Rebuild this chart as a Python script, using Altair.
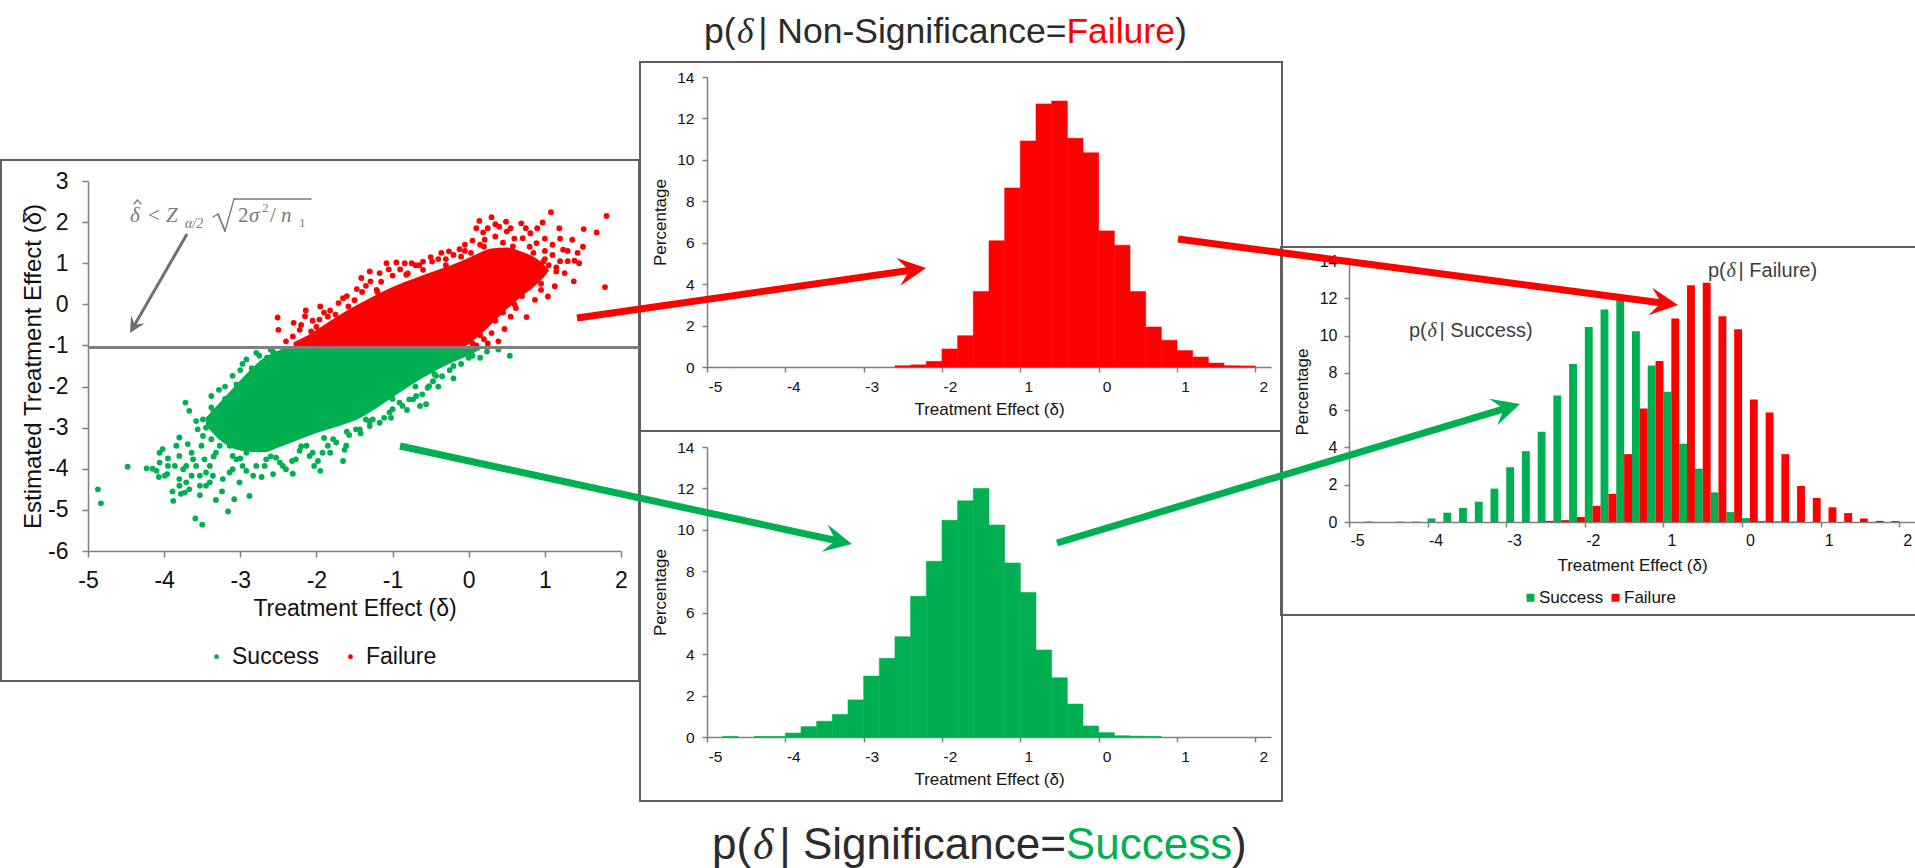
import math
import altair as alt
import pandas as pd

W, H = 1915, 868
GREEN = "#00b050"
RED = "#ff0000"
GRAY = "#7f7f7f"
FRAME = "#5f5f5f"
INK = "#111111"
TITLE_INK = "#2b2b2b"
SANS = "Liberation Sans"
SERIF = "Liberation Serif"

# ---------------------------------------------------------------- data
THRESH = -1.05  # significance cut on the estimated effect

# dense part of each cloud: lower / upper edge against the true effect
green_core_x = [-3.45, -3.30, -3.10, -2.90, -2.70, -2.50, -2.30, -2.00, -1.70, -1.40, -1.15, -0.90, -0.65, -0.40, -0.15, 0.05, 0.15]
green_core_lo = [-2.95, -3.25, -3.50, -3.58, -3.60, -3.48, -3.34, -3.13, -2.96, -2.74, -2.45, -2.14, -1.84, -1.58, -1.36, -1.20, -1.10]
green_core_hi = [-2.75, -2.45, -2.05, -1.65, -1.32, -1.12, -1.06, -1.06, -1.06, -1.06, -1.06, -1.06, -1.06, -1.06, -1.06, -1.06, -1.06]

red_core_x = [-2.30, -2.10, -1.90, -1.60, -1.30, -1.00, -0.70, -0.40, -0.10, 0.10, 0.30, 0.50, 0.70, 0.90, 1.05]
red_core_lo = [-1.04, -1.04, -1.04, -1.04, -1.04, -1.04, -1.04, -1.04, -1.04, -0.82, -0.48, -0.12, 0.20, 0.50, 0.80]
red_core_hi = [-0.92, -0.74, -0.50, -0.15, 0.15, 0.42, 0.64, 0.84, 1.05, 1.22, 1.36, 1.38, 1.28, 1.10, 0.85]

# scattered simulations around the clouds (true effect, estimated effect)
green_pts = [
    (-4.87, -4.50), (-4.83, -4.84), (-4.48, -3.95), (-4.23, -3.99), (-4.07, -4.20), (-4.06, -3.61),
    (-4.02, -3.52), (-3.96, -4.13), (-3.89, -4.55), (-3.88, -4.78), (-3.80, -3.24), (-3.72, -2.39),
    (-3.67, -2.59), (-3.59, -5.21), (-3.50, -5.36), (-3.78, -4.61), (-3.53, -4.41), (-3.32, -4.76),
    (-3.16, -5.04), (-3.08, -4.74), (-3.24, -4.55), (-2.88, -4.66), (-2.83, -4.17), (-2.72, -4.20),
    (-2.57, -4.13), (-2.31, -4.12), (-2.44, -3.93), (-2.32, -3.81), (-1.95, -4.05), (-1.98, -3.81),
    (-1.92, -3.61), (-1.82, -3.61), (-1.65, -3.81), (-1.63, -3.54), (-1.74, -3.36), (-1.57, -3.18),
    (-1.42, -3.14), (-1.26, -2.80), (-1.11, -2.76), (-1.02, -2.76), (-0.81, -2.57), (-0.64, -2.47),
    (-0.56, -2.43), (-0.61, -2.19), (-0.54, -2.03), (-0.47, -1.87), (-3.38, -2.23), (-3.28, -2.08),
    (-3.10, -1.74), (-2.97, -1.45), (-2.92, -1.34), (-2.79, -1.18), (-2.71, -1.42), (-2.57, -1.15),
    (-2.44, -1.14), (-2.48, -1.38), (-2.38, -1.36), (-3.29, -2.76), (-3.58, -2.84), (-3.38, -2.51),
    (-3.49, -3.20), (-3.64, -3.61), (-3.71, -3.93), (-3.86, -3.93), (-3.80, -4.25), (-3.58, -3.93),
    (-3.45, -4.09), (-3.67, -4.50), (-3.53, -4.64), (-3.40, -4.33), (-3.14, -4.09), (-3.01, -4.33),
    (-2.92, -4.05), (-3.10, -3.69), (-3.27, -3.44), (-2.68, -3.93), (-2.53, -3.73), (-2.22, -3.56),
    (-2.13, -3.44), (-2.05, -3.61), (-1.85, -3.44), (-1.48, -3.04), (-1.30, -2.96), (-0.91, -2.39),
    (-0.73, -2.31), (-1.00, -2.55), (-0.35, -1.75), (-0.25, -1.60), (-0.10, -1.45), (0.00, -1.30),
    (0.24, -1.15), (0.39, -1.10), (0.54, -1.25), (0.15, -1.30), (-0.20, -1.80), (-0.40, -2.00),
    (-3.95, -3.75), (-4.15, -4.00), (-3.35, -3.70), (-2.60, -1.10), (-2.75, -1.25), (-3.00, -1.60),
    (-3.20, -2.00),
    (-4.06, -3.85), (-3.99, -4.17), (-4.10, -4.05), (-3.95, -3.93), (-3.84, -3.44), (-3.80, -3.69),
    (-3.75, -4.01), (-3.71, -4.33), (-3.64, -4.17), (-3.62, -3.77), (-3.69, -3.40), (-3.80, -4.41),
    (-3.73, -4.58), (-3.56, -3.04), (-3.51, -3.44), (-3.47, -3.77), (-3.40, -3.93), (-3.36, -4.17),
    (-3.32, -3.61), (-3.27, -3.20), (-3.45, -4.41), (-3.23, -4.25), (-3.53, -4.17), (-3.38, -3.28),
    (-3.49, -2.80), (-3.18, -2.80), (-3.14, -3.44), (-3.05, -3.77), (-2.97, -3.93), (-2.92, -3.61),
    (-2.88, -3.28), (-3.01, -3.04), (-3.10, -4.01), (-2.79, -3.93), (-2.66, -3.77), (-2.48, -3.85),
    (-2.40, -4.01), (-2.27, -3.77), (-2.09, -3.69), (-2.03, -3.93), (-1.78, -3.28), (-1.61, -3.44),
    (-1.43, -3.04), (-1.35, -2.80), (-1.17, -2.88), (-1.04, -2.63), (-0.87, -2.47), (-0.78, -2.31),
    (-0.69, -2.23), (-0.52, -1.99), (-0.43, -1.74),
    (-3.20, -2.30), (-3.05, -1.95), (-2.85, -1.55), (-2.65, -1.30), (-2.50, -1.20), (-3.35, -2.60),
    (-3.45, -3.00), (-3.00, -3.75), (-2.60, -3.70), (-2.20, -3.45), (-1.90, -3.25), (-1.60, -3.10),
    (-1.30, -2.85), (-1.00, -2.30), (-0.70, -2.00), (-0.45, -1.70), (-0.20, -1.50), (0.05, -1.25),
]
red_pts = [
    (-2.51, -0.32), (-2.50, -0.62), (-2.31, -0.78), (-2.40, -0.90), (-2.15, -0.29), (-2.14, -0.15),
    (-2.22, -0.62), (-2.07, -0.66), (-1.96, -0.37), (-1.95, -0.05), (-1.82, -0.15), (-1.71, 0.03),
    (-1.58, -0.05), (-1.47, 0.37), (-1.41, 0.64), (-1.29, 0.56), (-1.21, 0.35), (-1.17, 0.76),
    (-1.08, 1.00), (-0.95, 1.02), (-0.84, 1.00), (-0.82, 0.72), (-0.60, 1.04), (-0.60, 0.84),
    (-0.48, 1.04), (-0.36, 1.25), (-0.26, 1.29), (-0.12, 1.34), (-0.10, 1.16), (0.03, 1.25),
    (0.10, 1.85), (0.14, 2.03), (0.19, 1.75), (0.21, 1.57), (0.30, 2.12), (0.40, 1.89),
    (0.45, 1.16), (0.49, 2.01), (0.50, 1.77), (0.58, 1.41), (0.69, 1.97), (0.71, 1.61),
    (0.81, 1.73), (0.89, 1.49), (0.97, 1.99), (0.98, 1.04), (1.08, 2.24), (1.19, 1.85),
    (1.24, 1.33), (1.26, 0.76), (1.36, 1.57), (1.38, 0.56), (1.39, 1.06), (1.43, 1.25),
    (1.51, 1.83), (1.68, 1.75), (1.81, 2.15), (1.79, 0.42), (1.13, 0.44), (1.04, 0.19),
    (0.87, 0.11), (0.76, -0.31), (0.62, -0.09), (0.47, -0.60), (0.39, -0.90), (0.18, -0.58),
    (0.25, -0.95), (0.05, -0.95), (1.10, 1.20), (0.95, 0.70), (0.80, 0.45), (0.65, 1.10),
    (1.20, 1.60), (0.35, 1.65), (-0.05, 1.45), (-0.30, 1.10), (-0.70, 0.95), (-1.00, 0.70),
    (-1.35, 0.45), (-1.65, 0.15), (-1.85, -0.30), (-2.00, -0.55), (1.00, 1.30), (1.30, 1.05),
    (1.15, 0.80),
    (-2.30, -0.45), (-2.20, -0.50), (-2.05, -0.40), (-1.90, -0.20), (-1.75, -0.25), (-1.60, 0.20),
    (-1.50, 0.10), (-1.40, 0.30), (-1.30, 0.80), (-1.15, 0.55), (-1.05, 0.85), (-0.90, 0.85),
    (-0.75, 1.00), (-0.65, 0.95), (-0.50, 1.15), (-0.40, 1.10), (-0.20, 1.20), (-0.05, 1.30),
    (0.05, 1.55), (0.15, 1.45), (0.25, 1.85), (0.35, 1.95), (0.55, 1.85), (0.60, 1.60),
    (0.75, 1.85), (0.85, 1.25), (0.90, 1.85), (1.00, 1.60), (1.10, 1.45), (1.20, 1.05),
    (1.30, 1.30), (1.45, 1.00), (1.50, 1.40), (1.05, 0.95), (0.95, 0.35), (0.85, 0.65),
    (0.70, 0.20), (0.55, -0.30), (0.45, -0.20), (0.30, -0.70), (0.20, -0.85), (0.10, -1.00),
    (-1.20, 0.30), (-0.80, 0.75), (-0.30, 0.95), (0.20, 1.40), (0.45, 1.50), (0.80, 1.40),
    (1.00, 1.10), (1.15, 0.90), (0.95, 0.50), (0.60, 0.00), (0.35, -0.40), (0.15, -0.75),
]

# histogram bins of the true effect (left edges, width 0.2) and percentages
bin_lo = [-5.0, -4.8, -4.6, -4.4, -4.2, -4.0, -3.8, -3.6, -3.4, -3.2,
          -3.0, -2.8, -2.6, -2.4, -2.2, -2.0, -1.8, -1.6, -1.4, -1.2,
          -1.0, -0.8, -0.6, -0.4, -0.2, 0.0, 0.2, 0.4, 0.6, 0.8,
          1.0, 1.2, 1.4, 1.6, 1.8, 2.0]
pct_success = [0, 0.03, 0, 0.02, 0.02, 0.19, 0.50, 0.76, 1.09, 1.79,
               2.94, 3.80, 4.84, 6.79, 8.48, 10.46, 11.40, 12.00, 10.23, 8.40,
               6.98, 4.20, 2.86, 1.59, 0.53, 0.21, 0.06, 0.04, 0.03, 0,
               0, 0, 0, 0, 0, 0]
pct_failure = [0, 0, 0, 0, 0, 0, 0, 0, 0, 0,
               0, 0, 0.06, 0.10, 0.27, 0.87, 1.51, 3.64, 6.09, 8.64,
               10.91, 12.70, 12.84, 11.04, 10.34, 6.57, 5.88, 3.64, 1.93, 1.29,
               0.79, 0.48, 0.19, 0.06, 0.05, 0]

groups = ["Success", "Failure"]
effect_ticks = [-5, -4, -3, -2, -1, 0, 1, 2]
est_ticks = [3, 2, 1, 0, -1, -2, -3, -4, -5, -6]
pct_ticks = [0, 2, 4, 6, 8, 10, 12, 14]

# ---------------------------------------------------------------- tables
ONE = pd.DataFrame({"k": [0]})
green_core = pd.DataFrame({"x": green_core_x, "lo": green_core_lo, "hi": green_core_hi})
red_core = pd.DataFrame({"x": red_core_x, "lo": red_core_lo, "hi": red_core_hi})
points = pd.DataFrame(
    [(x, y, "Success") for x, y in green_pts] + [(x, y, "Failure") for x, y in red_pts],
    columns=["x", "y", "group"],
)
hist = pd.DataFrame({"lo": bin_lo, "Success": pct_success, "Failure": pct_failure})
hist_long = hist.melt(id_vars="lo", var_name="group", value_name="pct")
hist_long = hist_long[hist_long["pct"] > 0]

# ---------------------------------------------------------------- scales (pixel ranges place each panel)
SC_X = alt.Scale(domain=[-5, 2], range=[88, 621], nice=False, zero=False)
SC_Y = alt.Scale(domain=[-6, 3], range=[551, 181], nice=False, zero=False)
HX = alt.Scale(domain=[-5, 2.2], range=[707, 1271], nice=False, zero=False)
HY_TOP = alt.Scale(domain=[0, 14], range=[367, 77], nice=False)
HY_BOT = alt.Scale(domain=[0, 14], range=[737, 447], nice=False)
RX = alt.Scale(domain=[-5, 2.2], range=[1349, 1915], nice=False, zero=False)
RY = alt.Scale(domain=[0, 14], range=[522, 261], nice=False)
COLOR = alt.Scale(domain=groups, range=[GREEN, RED])

HIST_LABELS = "datum.value == -1 ? '1' : toString(datum.value)"


def axis(orient, pos, values, lsize, title, tsize, lpad, tpad, tick=6, loffset=0,
         expr="toString(datum.value)"):
    offset = pos - H if orient == "bottom" else -pos
    return alt.Axis(
        orient=orient, offset=offset, values=values, grid=False,
        domainColor=GRAY, domainWidth=1.5, tickColor=GRAY, tickWidth=1.5, tickSize=tick,
        labelFont=SANS, labelFontSize=lsize, labelColor=INK, labelPadding=lpad,
        labelFlush=False, labelOverlap=False, labelOffset=loffset, labelExpr=expr,
        title=title, titleFont=SANS, titleFontSize=tsize, titleFontWeight="normal",
        titleColor=INK, titlePadding=tpad,
    )


def text(t, x, y, size, font=SANS, style="normal", color=INK, align="left"):
    return alt.Chart(ONE).mark_text(
        text=t, font=font, fontSize=size, fontStyle=style, color=color,
        align=align, baseline="alphabetic",
    ).encode(x=alt.value(x), y=alt.value(y))


def seg(x1, y1, x2, y2, color, width):
    return alt.Chart(ONE).mark_rule(color=color, strokeWidth=width, strokeCap="round").encode(
        x=alt.value(x1), y=alt.value(y1), x2=alt.value(x2), y2=alt.value(y2))


# Arial / Liberation Sans advance widths (per 1000 em)
ADV = {" ": 278, "(": 333, ")": 333, "|": 260, "-": 333, "=": 584, "F": 611, "N": 722,
       "S": 667, "a": 556, "c": 500, "e": 556, "f": 278, "g": 556, "i": 222, "l": 222,
       "n": 556, "o": 556, "p": 556, "r": 333, "s": 500, "t": 278, "u": 556}


def rich(x, y, size, parts):
    """Run of text pieces; 'd' pieces are the italic serif delta."""
    out = []
    for t, kind, color in parts:
        if kind == "d":
            out.append(text(t, x + 0.04 * size, y, size, SERIF, "italic", color))
            x += 0.64 * size
        else:
            out.append(text(t, x, y, size, SANS, "normal", color))
            x += sum(ADV.get(c, 556) for c in t) * size / 1000
    return out


STEALTH = "M1,0L-1,-1L-0.2,0L-1,1Z"


def arrow(x1, y1, x2, y2, color, width, unit):
    dx, dy = x2 - x1, y2 - y1
    d = math.hypot(dx, dy)
    ux, uy = dx / d, dy / d
    cx, cy = x2 - unit * ux, y2 - unit * uy
    ang = math.degrees(math.atan2(dy, dx)) % 360
    shaft = alt.Chart(ONE).mark_rule(color=color, strokeWidth=width, strokeCap="butt").encode(
        x=alt.value(x1), y=alt.value(y1), x2=alt.value(cx), y2=alt.value(cy))
    head = alt.Chart(ONE).mark_point(
        shape=STEALTH, filled=True, size=(2 * unit) ** 2, angle=ang,
        color=color, opacity=1, strokeWidth=0,
    ).encode(x=alt.value(cx), y=alt.value(cy))
    return [shaft, head]


def frame(x0, y0, x1, y1):
    return alt.Chart(ONE).mark_rect(fill="white", fillOpacity=0, stroke=FRAME, strokeWidth=2).encode(
        x=alt.value(x0), x2=alt.value(x1), y=alt.value(y0), y2=alt.value(y1))


layers = [frame(1, 160, 639, 681), frame(640, 62, 1282, 431), frame(640, 431, 1282, 801),
          frame(1281, 247, 1918, 615)]

# ---------------------------------------------------------------- scatter panel
for core, col in ((green_core, GREEN), (red_core, RED)):
    layers.append(
        alt.Chart(core).mark_area(color=col, opacity=1, interpolate="monotone").encode(
            x=alt.X("x:Q", scale=SC_X, axis=None),
            y=alt.Y("lo:Q", scale=SC_Y, axis=None),
            y2="hi:Q",
        )
    )

layers.append(
    alt.Chart(points).mark_circle(size=34, opacity=1).encode(
        x=alt.X("x:Q", scale=SC_X,
                axis=axis("bottom", 551, effect_ticks, 23, "Treatment Effect (δ)", 23, 12, 5)),
        y=alt.Y("y:Q", scale=SC_Y,
                axis=axis("left", 88, est_ticks, 23, "Estimated Treatment Effect (δ̂)", 24, 14, 2)),
        color=alt.Color("group:N", scale=COLOR, legend=alt.Legend(
            orient="none", legendX=205, legendY=645, direction="horizontal", title=None,
            symbolType="circle", symbolSize=24, symbolStrokeWidth=0, labelFont=SANS,
            labelFontSize=23, labelColor=INK, labelOffset=4, columnPadding=20)),
    )
)

layers.append(
    alt.Chart(ONE).mark_rule(color=GRAY, strokeWidth=3).encode(
        x=alt.X(datum=-5, type="quantitative", scale=SC_X, axis=None),
        x2=alt.X2(datum=2.24),
        y=alt.Y(datum=THRESH, type="quantitative", scale=SC_Y, axis=None),
    )
)

# decision rule annotation
FG = "#7a7a7a"
layers += [
    text("δ", 130, 222, 21, SERIF, "italic", FG),
    text("<", 148, 222, 21, SERIF, "normal", FG),
    text("Z", 166, 222, 21, SERIF, "italic", FG),
    text("α/2", 185, 228, 14, SERIF, "italic", FG),
    text("2", 238, 222, 21, SERIF, "normal", FG),
    text("σ", 249, 222, 21, SERIF, "italic", FG),
    text("2", 262, 212, 13, SERIF, "normal", FG),
    text("/", 270, 222, 21, SERIF, "normal", FG),
    text("n", 281, 222, 21, SERIF, "italic", FG),
    text("1", 299, 227, 13, SERIF, "normal", FG),
    # hat over the delta
    seg(134, 204, 137.5, 200, FG, 1.3),
    seg(137.5, 200, 141, 204, FG, 1.3),
    # radical sign and its bar
    seg(213, 217, 218, 214, FG, 1.4),
    seg(218, 214, 225, 231, FG, 1.8),
    seg(225, 231, 234, 199, FG, 1.4),
    seg(234, 199, 311, 199, FG, 1.4),
]
layers += arrow(187, 234, 130, 333, "#6f6f6f", 3, 8)

# ---------------------------------------------------------------- conditional histograms
for col, yscale, ypos in (("Failure", HY_TOP, 367), ("Success", HY_BOT, 737)):
    fill = GREEN if col == "Success" else RED
    layers.append(
        alt.Chart(hist).transform_filter(f"datum.{col} > 0").transform_calculate(
            hi="datum.lo + 0.2"
        ).mark_bar(
            color=fill, stroke=fill, strokeWidth=0.6, opacity=1
        ).encode(
            x=alt.X("lo:Q", scale=HX,
                    axis=axis("bottom", ypos, effect_ticks, 15.5, "Treatment Effect (δ)", 17, 7, 7,
                              tick=5, loffset=8, expr=HIST_LABELS)),
            x2="hi:Q",
            y=alt.Y(f"{col}:Q", scale=yscale,
                    axis=axis("left", 707, pct_ticks, 15.5, "Percentage", 17, 8, 7, tick=5)),
            y2=alt.Y2(datum=0),
        )
    )

# ---------------------------------------------------------------- side-by-side comparison
layers.append(
    alt.Chart(hist_long).transform_calculate(
        x0="datum.lo + (datum.group == 'Success' ? 0 : 0.1)",
        x1="datum.lo + (datum.group == 'Success' ? 0.1 : 0.2)",
    ).mark_bar(opacity=1, strokeWidth=0).encode(
        x=alt.X("x0:Q", scale=RX,
                axis=axis("bottom", 522, effect_ticks, 16, "Treatment Effect (δ)", 17, 5, 9,
                          tick=5, loffset=8, expr=HIST_LABELS)),
        x2="x1:Q",
        y=alt.Y("pct:Q", scale=RY,
                axis=axis("left", 1349, pct_ticks, 16, "Percentage", 17, 7, 8, tick=5)),
        y2=alt.Y2(datum=0),
        color=alt.Color("group:N", scale=COLOR, legend=alt.Legend(
            orient="none", legendX=1522, legendY=589, direction="horizontal", title=None,
            symbolType="square", symbolSize=64, symbolStrokeWidth=0, labelFont=SANS,
            labelFontSize=17, labelColor=INK, labelOffset=0, columnPadding=3)),
    )
)

NOTE = "#3d3d3d"
layers += rich(1409, 337, 20, [("p(", "s", NOTE), ("δ", "d", NOTE), ("| Success)", "s", NOTE)])
layers += rich(1708, 277, 20, [("p(", "s", NOTE), ("δ", "d", NOTE), ("| Failure)", "s", NOTE)])

# ---------------------------------------------------------------- headings
layers += rich(704, 43, 35.5, [("p(", "s", TITLE_INK), ("δ", "d", TITLE_INK),
                               ("| Non-Significance=", "s", TITLE_INK), ("Failure", "s", RED),
                               (")", "s", TITLE_INK)])
layers += rich(712, 859, 44, [("p(", "s", TITLE_INK), ("δ", "d", TITLE_INK),
                              ("| Significance=", "s", TITLE_INK), ("Success", "s", GREEN),
                              (")", "s", TITLE_INK)])

# ---------------------------------------------------------------- linking arrows
layers += arrow(577, 318, 926, 268, RED, 7, 14)
layers += arrow(1178, 239, 1678, 305, RED, 7, 14)
layers += arrow(400, 446, 852, 544, GREEN, 7, 14)
layers += arrow(1057, 543, 1520, 404, GREEN, 7, 14)

chart = alt.layer(*layers).resolve_scale(
    x="independent", y="independent", color="independent"
).resolve_axis(
    x="independent", y="independent"
).resolve_legend(
    color="independent"
).properties(
    width=W, height=H, padding=0, background="white",
    autosize=alt.AutoSizeParams(type="none"),
).configure_view(strokeWidth=0)

chart.save("out.html", embed_options={"renderer": "svg", "actions": False})
